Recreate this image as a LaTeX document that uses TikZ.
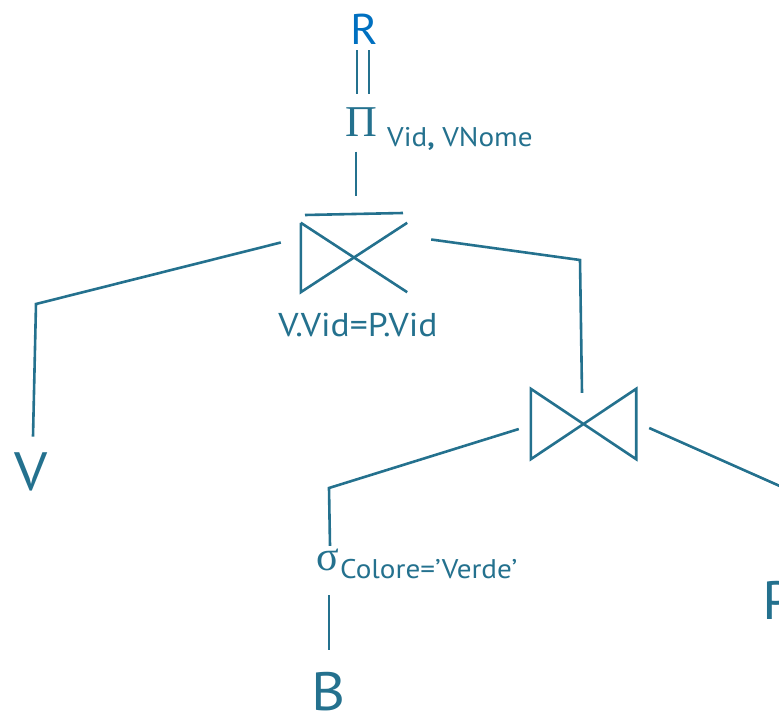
\documentclass[tikz,border=0pt]{standalone}
\usepackage{fontspec}
\setmainfont[FakeStretch=1.08]{PT Sans}
\newfontfamily\greekserif{Liberation Serif}
\definecolor{treeline}{RGB}{36,113,142}
\definecolor{resblue}{RGB}{0,112,192}
\tikzset{
  rel/.style={draw=treeline,line width=2.6pt},
  opjoin/.style={inner sep=0pt,minimum width=#1,minimum height=70pt},
  leaf/.style={inner sep=0pt,text=treeline,font=\fontsize{54}{60}\selectfont},
}
\begin{document}
\begin{tikzpicture}[x=1pt,y=-1pt]
        \useasboundingbox (0,0) rectangle (779,714);
        \node[inner sep=0pt,text=resblue,font=\fontsize{43}{50}\selectfont] (R) at (364,29) {R};
        \node[inner sep=0pt,text=treeline,font=\greekserif\fontsize{44}{50}\selectfont] (Pi) at (361,122) {Π};
        \node[anchor=base west,inner sep=0pt,text=treeline,font=\fontsize{27}{30}\selectfont] (PiSub) at (387,147) {Vid\textbf{,} VNome};
        \node[opjoin=106pt,minimum height=69pt] (J1) at (354,257.5) {};
        \node[inner sep=0pt,text=treeline,font=\fontsize{33}{36}\selectfont] (J1cond) at (358,325) {V.Vid=P.Vid};
        \node[opjoin=105pt] (J2) at (583.5,424) {};
        \node[inner sep=0pt,text=treeline,font=\greekserif\fontsize{42}{46}\selectfont] (Sig) at (328,560) {σ};
        \node[anchor=base west,inner sep=0pt,text=treeline,font=\fontsize{27}{30}\selectfont] (SigSub) at (340,578) {Colore=’Verde’};
        \node[leaf] (V) at (31,472) {V};
        \node[leaf] (B) at (329,692) {B};
        \node[leaf,anchor=west] (P) at (762,600) {P};

        \coordinate (cV) at (36,304);
        \coordinate (cJ) at (580,260);
        \coordinate (cS) at (329,488);
        \coordinate (cP) at (800,495);

        % join symbols
        \draw[rel] (305,215) -- (403,213);
        \draw[rel] (J1.north west) -- (J1.south west) -- (J1.north east);
        \draw[rel] (J1.north west) -- (J1.south east);
        \draw[rel] (J2.north west) -- (J2.south west) -- (J2.north east)
                   -- (J2.south east) -- cycle;

        % tree edges
        \draw[rel,double=white,double distance=9.4pt,line width=2.6pt]
             ([xshift=-1pt,yshift=-6pt]R.south) -- ([xshift=2pt,yshift=13pt]Pi.north);
        \draw[rel] ([xshift=-5pt,yshift=-15pt]Pi.south) -- ([xshift=2pt,yshift=27pt]J1.north);
        \draw[rel] ([xshift=-20pt,yshift=15pt]J1.west) -- (cV) -- ([xshift=2pt,yshift=16pt]V.north);
        \draw[rel] ([xshift=24pt,yshift=18pt]J1.east) -- (cJ) -- ([xshift=-1.5pt,yshift=-4pt]J2.north);
        \draw[rel] ([xshift=-12pt,yshift=-5pt]J2.west) -- (cS) -- ([xshift=2pt,yshift=3pt]Sig.north);
        \draw[rel] ([xshift=1pt,yshift=-24pt]Sig.south) -- ([yshift=22pt]B.north);
        \draw[rel] ([xshift=13pt,yshift=-4pt]J2.east) -- (cP);
      \end{tikzpicture}
\end{document}
